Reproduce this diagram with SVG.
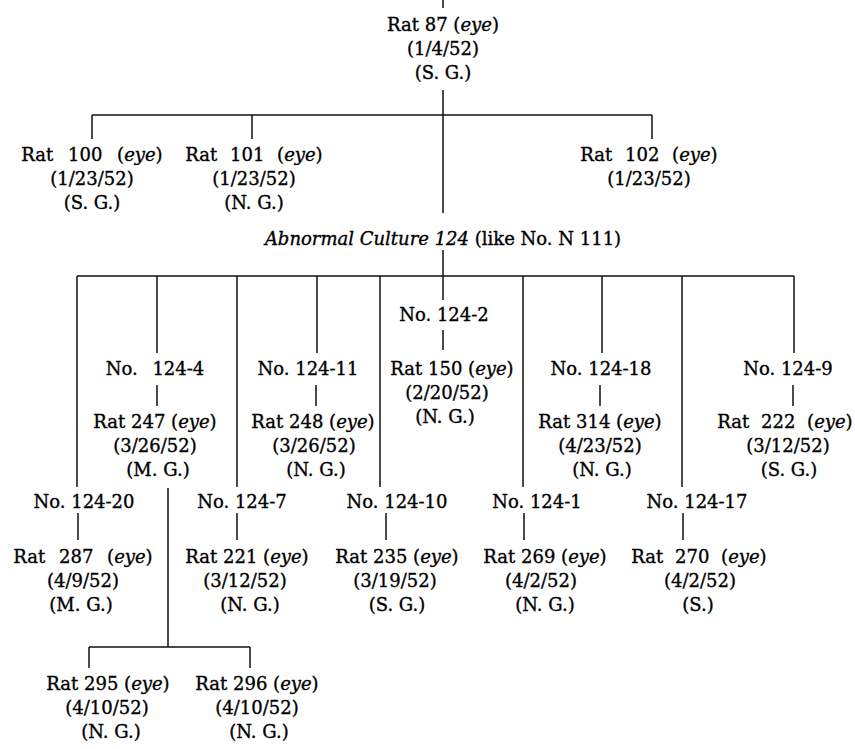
<svg xmlns="http://www.w3.org/2000/svg" width="855" height="749" viewBox="0 0 855 749">
<style>
text{font-family:"DejaVu Serif","Liberation Serif",serif;font-size:18px;fill:#000;stroke:#000;stroke-width:0.35;text-anchor:middle}
.i{font-style:italic}
.c path{fill:none;stroke:#111;stroke-width:1.5}
</style>
<rect width="855" height="749" fill="#fff"/>
<g class="c" id="connectors">
<path d="M443,0V8M443,90V213M92,115H652M92,115V139M252,115V139M652,115V139"/>
<path d="M443,250V300M77,276H794M77,276V487M157,276V353M237,276V487M317,276V353M380,276V487M523,276V487M602,276V353M682,276V487M794,276V353"/>
<path d="M443,330V350M157,385V406M316,385V406M600,385V406M793,385V406"/>
<path d="M78,513V540M237,513V540M386,513V540M524,513V540M683,513V540"/>
<path d="M168,488V647M89,647H250M89,647V668M250,647V668"/>
</g>
<g id="rat87"><text x="443" y="31">Rat 87 (<tspan class="i">eye</tspan>)</text><text x="443" y="55">(1/4/52)</text><text x="443" y="79">(S. G.)</text></g>
<g id="rat100"><text x="92" y="161" word-spacing="9">Rat 100 (<tspan class="i">eye</tspan>)</text><text x="92" y="185">(1/23/52)</text><text x="92" y="209">(S. G.)</text></g>
<g id="rat101"><text x="254" y="161" word-spacing="7">Rat 101 (<tspan class="i">eye</tspan>)</text><text x="254" y="185">(1/23/52)</text><text x="254" y="209">(N. G.)</text></g>
<g id="rat102"><text x="649" y="161" word-spacing="7">Rat 102 (<tspan class="i">eye</tspan>)</text><text x="649" y="185">(1/23/52)</text></g>
<g id="culture124"><text x="443" y="245"><tspan class="i">Abnormal Culture 124</tspan> (like No. N 111)</text></g>
<g id="no124-2"><text x="444" y="321">No. 124-2</text></g>
<g id="rat150"><text x="452" y="375">Rat 150 (<tspan class="i">eye</tspan>)</text><text x="447" y="399">(2/20/52)</text><text x="445" y="423">(N. G.)</text></g>
<g id="no124-4"><text x="155" y="375" word-spacing="9">No. 124-4</text></g>
<g id="no124-11"><text x="308" y="375">No. 124-11</text></g>
<g id="no124-18"><text x="601" y="375">No. 124-18</text></g>
<g id="no124-9"><text x="788" y="375">No. 124-9</text></g>
<g id="rat247"><text x="155" y="428">Rat 247 (<tspan class="i">eye</tspan>)</text><text x="155" y="452">(3/26/52)</text><text x="158" y="476">(M. G.)</text></g>
<g id="rat248"><text x="313" y="428">Rat 248 (<tspan class="i">eye</tspan>)</text><text x="314" y="452">(3/26/52)</text><text x="316" y="476">(N. G.)</text></g>
<g id="rat314"><text x="600" y="428">Rat 314 (<tspan class="i">eye</tspan>)</text><text x="600" y="452">(4/23/52)</text><text x="602" y="476">(N. G.)</text></g>
<g id="rat222"><text x="785" y="428" word-spacing="6">Rat 222 (<tspan class="i">eye</tspan>)</text><text x="788" y="452">(3/12/52)</text><text x="789" y="476">(S. G.)</text></g>
<g id="no124-20"><text x="84" y="508">No. 124-20</text></g>
<g id="no124-7"><text x="242" y="508">No. 124-7</text></g>
<g id="no124-10"><text x="397" y="508">No. 124-10</text></g>
<g id="no124-1"><text x="537" y="508">No. 124-1</text></g>
<g id="no124-17"><text x="697" y="508">No. 124-17</text></g>
<g id="rat287"><text x="83" y="563" word-spacing="8">Rat 287 (<tspan class="i">eye</tspan>)</text><text x="83" y="587">(4/9/52)</text><text x="81" y="611">(M. G.)</text></g>
<g id="rat221"><text x="247" y="563">Rat 221 (<tspan class="i">eye</tspan>)</text><text x="245" y="587">(3/12/52)</text><text x="250" y="611">(N. G.)</text></g>
<g id="rat235"><text x="397" y="563">Rat 235 (<tspan class="i">eye</tspan>)</text><text x="395" y="587">(3/19/52)</text><text x="397" y="611">(S. G.)</text></g>
<g id="rat269"><text x="545" y="563">Rat 269 (<tspan class="i">eye</tspan>)</text><text x="541" y="587">(4/2/52)</text><text x="545" y="611">(N. G.)</text></g>
<g id="rat270"><text x="699" y="563" word-spacing="6">Rat 270 (<tspan class="i">eye</tspan>)</text><text x="700" y="587">(4/2/52)</text><text x="698" y="611">(S.)</text></g>
<g id="rat295"><text x="108" y="690">Rat 295 (<tspan class="i">eye</tspan>)</text><text x="107" y="714">(4/10/52)</text><text x="111" y="738">(N. G.)</text></g>
<g id="rat296"><text x="257" y="690">Rat 296 (<tspan class="i">eye</tspan>)</text><text x="257" y="714">(4/10/52)</text><text x="259" y="738">(N. G.)</text></g>
</svg>
